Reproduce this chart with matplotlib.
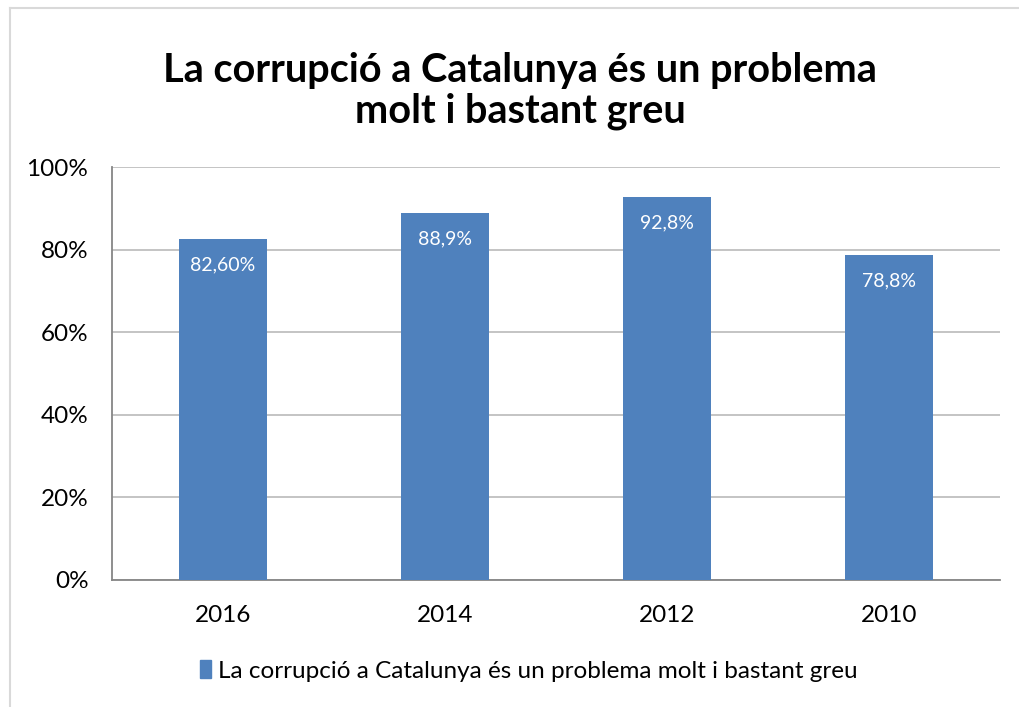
import numpy as np
import matplotlib.pyplot as plt
from matplotlib.lines import Line2D
from matplotlib.ticker import FuncFormatter

# chart data
years = ["2016", "2014", "2012", "2010"]
values = [82.6, 88.9, 92.8, 78.8]
value_labels = ["82,60%", "88,9%", "92,8%", "78,8%"]
series_name = "La corrupció a Catalunya és un problema molt i bastant greu"
title = "La corrupció a Catalunya és un problema\nmolt i bastant greu"

plt.rcParams['font.family'] = ['Lato', 'DejaVu Sans']

W, H = 1019, 707
fig = plt.figure(figsize=(W/100, H/100), dpi=100)

# plot area in pixels: x 112..1000, y 167..580
ax = fig.add_axes([112/W, 1-580/H, (1000-112)/W, (580-167)/H])

x = np.arange(len(years))
bars = ax.bar(x, values, width=0.4, color="#4F81BD", zorder=3)

for b, lab in zip(bars, value_labels):
    ax.text(b.get_x()+b.get_width()/2, b.get_height()-4.3, lab,
            ha="center", va="top", color="white", fontsize=14, zorder=4)

ax.set_xlim(-0.5, len(years)-0.5)
ax.set_ylim(0, 100)
ax.set_yticks(np.arange(0, 101, 20))
ax.yaxis.set_major_formatter(FuncFormatter(lambda v, p: "%d%%" % v))
ax.set_xticks(x)
ax.set_xticklabels(years)
ax.tick_params(axis="both", length=0, labelsize=17.5, colors="black")
ax.tick_params(axis="x", pad=18)
ax.tick_params(axis="y", pad=17)

ax.grid(axis="y", color="#BFBFBF", linewidth=1.3, zorder=0)
for s in ["top", "right"]:
    ax.spines[s].set_visible(False)
for s in ["left", "bottom"]:
    ax.spines[s].set_color("#868686")
    ax.spines[s].set_linewidth(1.3)

fig.text(520/W, 1-91/H, title, ha="center", va="center",
         fontsize=28.5, fontweight="bold", linespacing=1.1)

# legend
leg_handle = plt.Rectangle((0, 0), 1, 1, color="#4F81BD")
fig.legend([leg_handle], [series_name], loc="center",
           bbox_to_anchor=(529/W, 1-671/H), frameon=False, fontsize=17.5,
           handlelength=0.45, handleheight=0.7, handletextpad=0.3)

# chart outer frame (left & top edges visible)
fig.add_artist(Line2D([10/W, 10/W], [0, 1-8/H], color="#D9D9D9", linewidth=1.5))
fig.add_artist(Line2D([10/W, 1], [1-8/H, 1-8/H], color="#D9D9D9", linewidth=1.5))

fig.savefig("out.png", dpi=100)
